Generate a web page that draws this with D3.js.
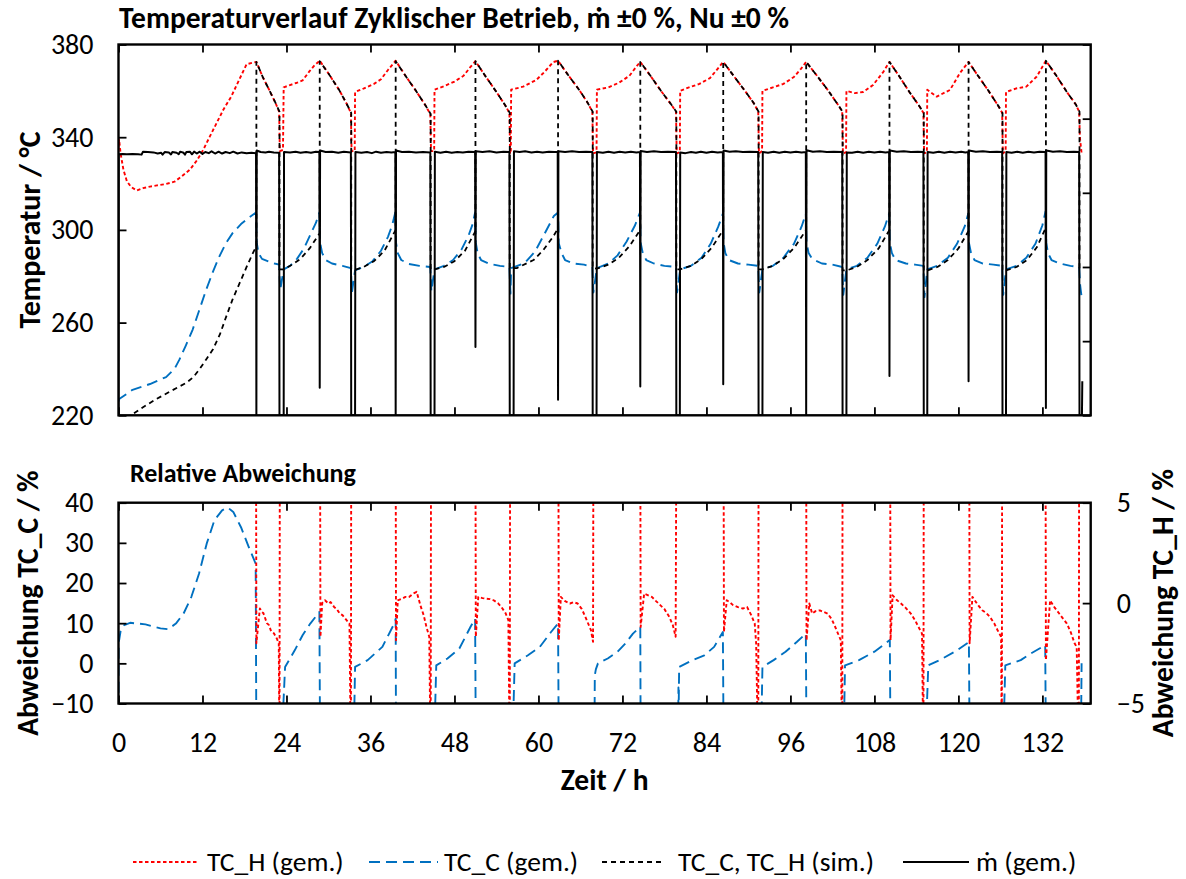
<!DOCTYPE html>
<html><head><meta charset="utf-8">
<script src="https://cdn.jsdelivr.net/npm/d3@7"></script>
<style>
body{margin:0;background:#fff}
svg{display:block}
text{font-family:Carlito,Calibri,Lato,"Open Sans",sans-serif;fill:#000}
</style></head>
<body><svg id="c" width="1186" height="879"></svg>
<script>
// ---------------- DATA ----------------
const xTicks=[0,12,24,36,48,60,72,84,96,108,120,132];
const tempTicks=[220,260,300,340,380];
const mdotTicks=[0,100,200,300,400,500];
const devCTicks=[-10,0,10,20,30,40];
const devHTicks=[-5,0,5];
const legendLabels=["TC_H (gem.)","TC_C (gem.)","TC_C, TC_H (sim.)","ṁ (gem.)"];

// TC_H measured [h, °C]
const tcHgem=[[0,335],[0.08,339],[0.3,333],[0.7,326],[1.2,321],[1.8,318.5],[2.6,317],[3.5,318],[4.5,318.7],[5.5,319.2],[6.8,319.8],[8.0,320.8],[9.0,323],[10.2,326],[11.2,330],[12.1,334.5],[13.0,340],[14.0,346],[15.0,352],[16.1,357.5],[17.2,364.5],[18.3,371.5],[19.4,372.3],[19.7,372.5],
[20.6,366],[21.6,360],[22.4,355],[22.95,351],[23.05,334],[23.5,334.5],[23.6,361.5],
[24.5,362.5],[25.5,363.5],[26.3,364.5],[27.3,368.5],[28.0,371],[28.75,373],
[30.0,367.5],[31.5,360.5],[32.5,355],[33.2,350.5],[33.3,334],[33.75,334],[33.8,359.5],
[35.0,361],[36.5,363],[37.5,365],[38.5,369],[39.6,373],
[41.0,366.5],[42.5,360],[43.8,354],[44.55,350],[44.65,334],[45.1,334],[45.15,360.5],
[46.5,362],[48.0,364],[49.3,366.5],[50.2,370],[51.0,372.8],
[52.5,366],[54.0,359.5],[55.2,354],[55.85,350.5],[55.95,333],[56.05,333],[56.1,360.5],
[57.8,361.8],[59.7,364.7],[60.9,368.3],[62.1,372.4],[62.8,373],
[64.2,367],[65.8,360.5],[67.0,355],[67.7,351],[67.8,333],[68.3,333.5],[68.35,360.5],
[70.0,361.5],[71.5,363.5],[73.0,366.5],[74.0,370.5],[74.55,372.5],
[76.0,366.5],[77.5,360],[79.0,354],[79.65,351],[79.75,333],[80.2,333.5],[80.25,360],
[81.5,361.5],[83.0,363],[84.5,365.5],[85.6,369.5],[86.4,372.5],
[88.0,366],[89.5,360],[90.8,354.5],[91.4,351],[91.5,333],[91.95,334],[92.0,360],
[93.5,361.5],[95.0,363],[96.5,366],[97.5,369.5],[98.25,372.5],
[99.8,366.5],[101.3,360.5],[102.8,354],[103.4,351],[103.5,333],[103.95,333.5],[104.0,360],
[105.2,359],[106.4,359.5],[107.8,362.5],[109.3,368.3],[110.15,372.5],
[111.5,366.5],[113.0,359.5],[114.4,353.5],[115.0,350.5],[115.1,333],[115.5,333.5],[115.55,360.5],
[116.9,357.5],[118.8,360.4],[120.2,367.6],[121.45,372.5],
[122.8,366.5],[124.3,360],[125.6,354],[126.25,350.5],[126.35,333],[126.75,334],[126.8,359.5],
[128.2,361],[129.7,361.8],[131.2,366.2],[132.5,373],
[134.0,366.5],[135.5,359.5],[136.8,354],[137.25,351],[137.35,340],[137.6,333]];

// TC_C measured [h, °C]
const tcCgem=[[0,226],[0.1,227],[2.0,231],[4.5,233.5],[6.8,236.5],[8.0,240],[8.7,244],[9.6,250],[10.6,257],[11.5,265],[12.5,274],[13.5,282],[14.4,288.5],[15.3,294],[16.3,298.6],[17.5,302.5],[18.5,305],[19.2,306.5],[19.65,307.5],
[19.75,294.5],[20.0,290],[20.5,287.5],[21.5,286.3],[22.3,285.5],[22.95,285],[23.1,274],[23.6,283],
[24.5,284.5],[25.5,287.5],[26.5,292],[27.5,298.5],[28.2,303],[28.7,307.5],
[28.8,294.5],[29.1,290],[29.6,287],[30.5,285.5],[32.0,284.5],[33.2,283.5],[33.35,273],[33.8,282.5],
[35.0,284],[36.3,286.5],[37.5,291],[38.5,297],[39.1,302],[39.55,307.5],
[39.65,294.5],[39.9,290],[40.4,287],[41.5,285.3],[43.0,284.5],[44.55,284],[44.7,273.5],[45.15,283],
[46.5,284.5],[47.8,287],[49.0,291.5],[50.0,297.5],[50.6,302.5],[50.95,307.5],
[51.05,294.5],[51.3,290],[51.8,287],[53.0,285.3],[54.5,284.5],[55.85,284],[56.0,272.5],[56.1,283.5],
[58.0,285.6],[59.5,290.6],[60.9,298.5],[62.2,306],[62.8,307.5],
[62.9,294.2],[63.3,290],[63.8,287],[65.0,285.5],[66.5,285],[67.7,284],[67.85,273],[68.35,283.5],
[70.0,285.5],[71.3,289],[72.6,295],[73.8,302],[74.5,307.5],
[74.6,294.5],[74.9,290],[75.4,287],[76.5,285.5],[78.0,284.5],[79.65,284],[79.8,273],[80.25,283],
[81.8,284.5],[83.3,288],[84.6,294],[85.7,301.5],[86.35,307],
[86.45,294.5],[86.7,290],[87.2,287],[88.5,285.5],[90.0,285],[91.4,284.5],[91.55,273],[92.0,283],
[93.5,284.5],[95.0,288],[96.5,294],[97.6,301.5],[98.2,307],
[98.3,294.5],[98.6,290],[99.1,287.5],[100.5,285.5],[102.0,285],[103.4,284],[103.55,272],[104.0,283],
[105.5,284.5],[107.0,288],[108.4,294],[109.5,301.5],[110.1,307],
[110.2,294.5],[110.5,290],[111.0,287],[112.5,285.5],[113.8,285],[115.0,284.5],[115.15,271],[115.55,283],
[117.0,284.5],[118.5,288],[119.8,294],[120.9,301.5],[121.4,307],
[121.5,294.5],[121.8,290],[122.3,287],[123.5,285.5],[125.0,285],[126.25,284.5],[126.4,272],[126.8,283],
[128.3,284.5],[129.7,288],[131.0,294],[132.0,302],[132.45,308],
[132.55,294.5],[132.8,290],[133.3,287],[134.5,285.5],[136.0,284.5],[137.25,284],[137.4,276],[137.6,271]];

// simulated TC_C (charging) / TC_H (discharging) [h, °C]
const tcSim=[[0,217],[1.6,219.7],[3.5,223.5],[5.4,227],[7.5,230.5],[9.7,234],[10.7,236.5],[11.6,240],[12.5,244],[13.5,248.5],[14.5,255],[15.4,262.7],[16.3,270],[17.3,277],[18.3,284],[19.2,290],[19.7,293],
[19.7,372.5],[20.6,366],[21.6,360],[22.4,355],[23.0,351],[23.0,283],[23.6,283],
[24.8,285],[26.0,287.5],[27.3,292],[28.75,298.6],[28.75,372.8],
[30.0,367.5],[31.5,360.5],[32.5,355],[33.25,350.5],[33.25,283],[33.8,282.8],
[35.0,284],[36.5,286.5],[38.0,291],[39.6,300],[39.6,372.8],
[41,366.5],[42.5,360],[43.8,354],[44.6,350],[44.6,283],[45.15,283],
[46.5,284],[48.0,286.5],[49.5,291],[51.0,299.5],[51.0,372.8],
[52.5,366],[54.0,359.5],[55.2,354],[55.9,350.5],[55.9,283.5],[56.9,283.5],
[59.3,287],[60.7,291.3],[62.1,297.1],[62.8,300.7],[62.8,373],
[64.2,367],[65.8,360.5],[67.0,355],[67.75,351],[67.75,283.5],[68.35,283.3],
[70.0,285],[71.5,288],[73.0,293],[74.55,300],[74.55,372.5],
[76.0,366.5],[77.5,360],[79.0,354],[79.7,351],[79.7,283],[80.25,283],
[81.8,284.5],[83.3,287.5],[84.8,292.5],[86.4,300],[86.4,372.5],
[88.0,366],[89.5,360],[90.8,354.5],[91.45,351],[91.45,283],[92.0,283],
[93.5,284.5],[95.0,287.5],[96.6,292.5],[98.25,300],[98.25,372.5],
[99.8,366.5],[101.3,360.5],[102.8,354],[103.45,351],[103.45,282.5],[104.0,282.5],
[105.5,284],[107.0,287],[108.6,292],[110.15,300],[110.15,372.5],
[111.5,366.5],[113.0,359.5],[114.4,353.5],[115.05,350.5],[115.05,282.5],[115.55,282.5],
[117.0,284],[118.5,287],[120.0,292],[121.45,299.5],[121.45,372.5],
[122.8,366.5],[124.3,360],[125.6,354],[126.3,350.5],[126.3,282.5],[126.8,282.5],
[128.3,284],[129.8,287],[131.2,292.5],[132.5,301],[132.5,373],
[134.0,366.5],[135.5,359.5],[136.8,354],[137.3,351],[137.3,283],[137.6,283]];

// mass flow measured [h, secondary axis units]
const mdotGem=[[0,0],[0.03,352],[0.6,352.5],[1.2,352],[2.0,352.5],[2.8,352],[3.3,351.5],[3.5,355.5],[4.2,355],[5.0,354.5],[5.6,353],[6.1,354],[6.3,351.5],[6.6,355],[7.2,354.5],[7.5,351.8],[7.7,355],[8.3,354],[8.6,352],[8.8,355.5],[9.3,354],[9.5,351.5],[9.7,355],[10.2,355.5],[10.5,352],[10.8,355.5],[11.2,353],[11.6,355.5],[12.0,352.5],[12.4,355],[12.9,353.5],[13.3,356],[13.8,353],[14.3,355.5],[14.8,353],[15.3,355],[15.9,353.5],[16.4,355.5],[17.0,353],[17.6,354.5],[18.3,353.5],[19.0,354],[19.65,353.5],
[19.7,0],[19.75,357],[20.3,355],[21.0,354.5],[21.5,355.5],[22.2,354.5],[22.95,354],[23.0,0],[23.6,0],[23.65,355],
[24.5,354.5],[25.3,355.5],[26.0,354],[26.8,355],[27.5,354],[28.2,355.5],[28.7,355],[28.75,37],[28.8,357],[29.6,355],[30.5,355.5],[31.4,354],[32.2,355.5],[33.2,354.5],[33.25,0],[33.8,0],[33.85,355],
[34.7,354],[35.5,355],[36.2,353.5],[36.8,355.5],[37.5,354],[38.3,355],[39.0,354.5],[39.55,355],[39.6,0],[39.65,357],[40.5,355],[41.5,355.5],[42.5,354.5],[43.5,355],[44.55,354.5],[44.6,0],[45.15,0],[45.2,355.5],
[46.0,354],[46.8,355.5],[47.6,354],[48.4,355],[49.2,354.5],[50.0,355.5],[50.95,355],[51.0,92],[51.05,356],[52.0,355],[53.0,356],[54.0,354.5],[55.0,355.5],[55.85,355],[55.9,0],[56.45,0],[56.5,356],
[57.3,355],[58.1,356],[59.0,354.5],[59.8,355.5],[60.6,354.5],[61.5,355.5],[62.3,355],[62.75,355],[62.8,21],[62.85,356],[63.8,355],[64.8,356],[65.8,355],[66.8,355.5],[67.7,355],[67.75,0],[68.3,0],[68.35,355],
[69.2,354],[70.0,355.5],[70.8,354],[71.6,355.5],[72.4,354.5],[73.2,355.5],[74.0,354.5],[74.5,355],[74.55,39],[74.6,356.5],[75.5,355],[76.5,356],[77.5,355],[78.5,355.5],[79.65,355],[79.7,0],[80.2,0],[80.25,354.5],
[81.0,353.5],[81.8,355],[82.5,354],[83.2,355.5],[84.0,354],[84.8,355.5],[85.6,354.5],[86.35,355],[86.4,42],[86.45,357],[87.3,355.5],[88.2,356],[89.2,355],[90.2,355.5],[91.4,355],[91.45,0],[92.0,0],[92.05,355],
[92.8,354],[93.6,355.5],[94.4,354],[95.2,355.5],[96.0,354.5],[96.8,355.5],[97.6,354.5],[98.2,355],[98.25,0],[98.3,357.5],[99.2,355.5],[100.2,356],[101.2,355],[102.2,355.5],[103.4,355],[103.45,0],[104.0,0],[104.05,354.5],
[104.8,354],[105.6,355.5],[106.4,354],[107.2,355.5],[108.0,354.5],[108.8,355.5],[109.6,354.5],[110.1,355],[110.15,53],[110.2,357],[111.2,355.5],[112.2,356],[113.2,355],[114.2,355.5],[115.0,355],[115.05,0],[115.55,0],[115.6,355],
[116.4,354],[117.2,355.5],[118.0,354],[118.8,355.5],[119.6,354.5],[120.4,355.5],[121.0,354.5],[121.4,355],[121.45,46],[121.5,357],[122.5,355.5],[123.5,356],[124.5,355],[125.5,355.5],[126.25,355],[126.3,0],[126.8,0],[126.85,355],
[127.6,354],[128.4,355.5],[129.2,354],[130.0,355.5],[130.8,354.5],[131.6,355.5],[132.45,355],[132.5,10],[132.55,357],[133.5,355.5],[134.5,356],[135.5,355],[136.5,355.5],[137.25,355],[137.3,0],[137.65,0],[137.7,46]];

// relative deviation TC_C [h, %] (left axis); -20 = outside range
const devC=[[0,-20],[0.02,5],[0.3,8],[0.8,9.5],[1.66,10.1],[3.85,9.7],[6.0,8.7],[7.1,8.5],[8.2,9.9],[9.3,12.4],[10.4,16.5],[11.5,22.3],[12.6,29.8],[13.7,35.6],[14.8,38.1],[15.6,38.8],[16.4,37.7],[17.5,33.9],[18.6,29.0],[19.6,24.8],[19.7,-20],
[23.3,-20],[23.8,-0.9],[25.2,3.3],[26.3,7.0],[27.4,9.9],[28.7,12.8],[28.8,-20],
[33.6,-20],[33.8,-0.9],[35.6,0.8],[37.7,4.1],[39.4,9.9],[39.6,11.1],[39.65,-20],
[45.1,-20],[45.4,-0.5],[47.0,1.2],[48.7,3.7],[50.3,9.1],[50.95,11.1],[51.05,-20],
[56.3,-20],[56.6,0],[58.5,2.0],[60.2,4.1],[61.8,7.8],[62.8,9.9],[62.9,-20],
[68.0,-20],[68.05,-3],[68.2,-1.5],[68.5,0],[69.9,1.2],[71.3,2.9],[72.4,4.9],[73.5,7.4],[74.55,9.1],[74.6,-20],
[79.95,-20],[80.0,-6],[80.05,-9],[80.1,-0.9],[82.0,0.8],[83.7,2.0],[85.1,4.1],[86.35,7.8],[86.45,-20],
[91.8,-20],[92.0,-0.9],[93.6,0.8],[95.3,2.9],[96.9,5.3],[98.2,7.4],[98.3,-20],
[103.6,-20],[103.8,-0.5],[105.8,0.8],[108.0,2.9],[110.2,5.8],[110.3,-20],
[115.3,-20],[115.7,-0.5],[117.3,0.8],[119.5,2.9],[121.5,5.3],[121.6,-20],
[126.4,-20],[126.7,-0.5],[128.9,0.8],[130.3,2.4],[132.4,4.5],[132.5,-20],
[137.5,-20],[137.6,0]];

// relative deviation TC_H [h, %] (right axis); ±8 = outside range
const devH=[[19.65,8],[19.7,-2.0],[20.2,-0.27],[20.5,-0.45],[20.7,-0.5],[21.0,-0.8],[21.2,-1.0],[21.5,-1.1],[21.8,-1.4],[22.2,-1.5],[22.6,-1.75],[22.9,-2.0],[23.0,-8],[23.05,8],
[28.8,8],[28.85,-1.68],[29.1,0.0],[29.5,0.14],[30.0,-0.02],[30.3,0.05],[30.8,-0.19],[31.2,-0.3],[31.6,-0.52],[32.0,-0.6],[32.4,-0.77],[33.0,-1.02],[33.2,-8],[33.25,8],
[39.6,8],[39.65,-1.85],[39.9,0.14],[40.5,0.22],[41.0,0.31],[41.5,0.3],[42.1,0.47],[42.6,0.56],[43.2,-0.19],[43.6,-0.6],[44.0,-1.19],[44.4,-1.68],[44.6,-8],[44.65,8],
[51.0,8],[51.05,-1.68],[51.4,0.31],[52.0,0.25],[52.5,0.22],[53.1,0.2],[53.6,0.14],[54.2,0.0],[54.7,-0.19],[55.3,-0.5],[55.7,-0.85],[55.9,-8],[55.95,8],
[62.85,8],[62.9,-1.85],[63.2,0.31],[63.8,0.1],[64.5,-0.02],[65.0,0.05],[65.6,-0.02],[66.2,-0.3],[66.7,-0.69],[67.5,-1.35],[67.8,-1.93],[67.85,8],
[74.55,8],[74.6,-1.19],[75.1,0.47],[75.6,0.4],[76.2,0.31],[76.8,0.1],[77.4,-0.1],[78.0,-0.3],[78.7,-0.69],[79.2,-1.1],[79.6,-1.68],[79.7,8],
[86.45,8],[86.5,-1.43],[86.9,0.14],[87.3,0.05],[87.8,-0.1],[88.5,-0.2],[89.2,-0.27],[89.8,-0.19],[90.4,-0.6],[90.9,-1.02],[91.1,-2.0],[91.4,-8],[91.45,8],
[98.25,8],[98.3,-1.85],[98.7,-0.02],[99.1,-0.52],[99.6,-0.4],[100.2,-0.36],[100.8,-0.45],[101.3,-0.52],[101.9,-0.8],[102.4,-1.19],[103.2,-1.85],[103.4,-8],[103.45,8],
[110.25,8],[110.3,-1.85],[110.6,0.39],[111.2,0.15],[111.8,-0.02],[112.5,-0.25],[113.2,-0.52],[113.8,-0.85],[114.3,-1.19],[114.8,-1.52],[115.0,-8],[115.05,8],
[121.55,8],[121.6,-2.0],[122.0,0.31],[122.7,-0.05],[123.4,-0.36],[124.0,-0.5],[124.5,-0.69],[125.1,-1.0],[125.6,-1.35],[126.1,-1.68],[126.2,-8],[126.25,8],
[132.45,8],[132.5,-2.84],[133.1,0.14],[133.7,-0.2],[134.4,-0.52],[135.0,-0.8],[135.5,-1.02],[136.1,-1.5],[136.6,-2.0],[136.9,-2.19],[137.2,-8],[137.25,8]];

// ---------------- LAYOUT ----------------
const FONT='Carlito,Calibri,Lato,"Open Sans",sans-serif';
const L=118.5,R=1090.7,T1=44.5,B1=415.3,T2=502.7,B2=703.5;
const svg=d3.select("#c");
const x=d3.scaleLinear().domain([0,138.9]).range([L,R]);
const yT=d3.scaleLinear().domain([220,380]).range([B1,T1]);
const yM=d3.scaleLinear().domain([0,500]).range([B1,T1]);
const yC=d3.scaleLinear().domain([-10,40]).range([B2,T2]);
const yH=d3.scaleLinear().domain([-5,5]).range([B2,T2]);

const defs=svg.append("defs");
defs.append("clipPath").attr("id","clip1").append("rect").attr("x",L).attr("y",T1).attr("width",R-L).attr("height",B1-T1);
defs.append("clipPath").attr("id","clip2").append("rect").attr("x",L).attr("y",T2).attr("width",R-L).attr("height",B2-T2);

const styles={
  H:{stroke:"#ff0000",dash:"3.5,2.5",w:1.9},
  C:{stroke:"#0070c0",dash:"11,6",w:1.9},
  S:{stroke:"#000",dash:"5,4",w:1.8},
  M:{stroke:"#000",dash:null,w:2}
};
function drawLine(g,data,ys,st){
  const ln=d3.line().x(d=>x(d[0])).y(d=>ys(d[1]));
  g.append("path").datum(data).attr("d",ln).attr("fill","none")
   .attr("stroke",st.stroke).attr("stroke-width",st.w)
   .attr("stroke-dasharray",st.dash).attr("stroke-linejoin","round");
}

// top plot lines
const g1=svg.append("g").attr("clip-path","url(#clip1)");
drawLine(g1,tcHgem,yT,styles.H);
drawLine(g1,tcCgem,yT,styles.C);
drawLine(g1,tcSim,yT,styles.S);
drawLine(g1,mdotGem,yM,styles.M);

// bottom plot lines
const g2=svg.append("g").attr("clip-path","url(#clip2)");
drawLine(g2,devC,yC,styles.C);
drawLine(g2,devH,yH,styles.H);

// axes
function styleAxis(g,fs){
  g.select(".domain").remove();
  g.selectAll(".tick line").attr("stroke","#000").attr("stroke-width",1.8);
  g.selectAll(".tick text").attr("font-size",fs).attr("fill","#000").style("font-family",FONT);
}
const FS=28;
// top
styleAxis(svg.append("g").attr("transform",`translate(${L},0)`).call(d3.axisLeft(yT).tickValues(tempTicks).tickSizeInner(-8).tickSizeOuter(0).tickPadding(25)),FS);
styleAxis(svg.append("g").attr("transform",`translate(${R},0)`).call(d3.axisRight(yM).tickValues(mdotTicks).tickSizeInner(-8).tickSizeOuter(0).tickFormat("")),FS);
styleAxis(svg.append("g").attr("transform",`translate(0,${B1})`).call(d3.axisBottom(x).tickValues(xTicks).tickSizeInner(-8).tickSizeOuter(0).tickFormat("")),FS);
styleAxis(svg.append("g").attr("transform",`translate(0,${T1})`).call(d3.axisTop(x).tickValues(xTicks).tickSizeInner(-8).tickSizeOuter(0).tickFormat("")),FS);
// bottom
styleAxis(svg.append("g").attr("transform",`translate(${L},0)`).call(d3.axisLeft(yC).tickValues(devCTicks).tickSizeInner(-8).tickSizeOuter(0).tickPadding(25)),FS);
styleAxis(svg.append("g").attr("transform",`translate(${R},0)`).call(d3.axisRight(yH).tickValues(devHTicks).tickSizeInner(-8).tickSizeOuter(0).tickPadding(26)),FS);
styleAxis(svg.append("g").attr("transform",`translate(0,${B2})`).call(d3.axisBottom(x).tickValues(xTicks).tickSizeInner(-8).tickSizeOuter(0).tickPadding(29)),FS);
styleAxis(svg.append("g").attr("transform",`translate(0,${T2})`).call(d3.axisTop(x).tickValues(xTicks).tickSizeInner(-8).tickSizeOuter(0).tickFormat("")),FS);

// frames
svg.append("rect").attr("x",L).attr("y",T1).attr("width",R-L).attr("height",B1-T1).attr("fill","none").attr("stroke","#000").attr("stroke-width",2.4);
svg.append("rect").attr("x",L).attr("y",T2).attr("width",R-L).attr("height",B2-T2).attr("fill","none").attr("stroke","#000").attr("stroke-width",2.4);

// titles
svg.append("text").attr("x",119).attr("y",28).attr("font-size",29.5).attr("font-weight","bold")
  .text("Temperaturverlauf Zyklischer Betrieb, ṁ ±0 %, Nu ±0 %");
svg.append("text").attr("x",130).attr("y",482).attr("font-size",26).attr("font-weight","bold")
  .text("Relative Abweichung");
svg.append("text").attr("transform",`translate(40,${(T1+B1)/2}) rotate(-90)`).attr("text-anchor","middle")
  .attr("font-size",30).attr("font-weight","bold").text("Temperatur / °C");
svg.append("text").attr("transform",`translate(38,${(T2+B2)/2}) rotate(-90)`).attr("text-anchor","middle")
  .attr("font-size",29.5).attr("font-weight","bold").text("Abweichung TC_C / %");
svg.append("text").attr("transform",`translate(1173,${(T2+B2)/2}) rotate(-90)`).attr("text-anchor","middle")
  .attr("font-size",29.5).attr("font-weight","bold").text("Abweichung TC_H / %");
svg.append("text").attr("x",(L+R)/2).attr("y",790).attr("text-anchor","middle")
  .attr("font-size",29.5).attr("font-weight","bold").text("Zeit / h");

// legend
const legPos=[[133,197,207],[369,438,444],[602,661,678],[903,969,976]];
const legSt=[styles.H,styles.C,styles.S,styles.M];
legendLabels.forEach((lab,i)=>{
  const p=legPos[i],st=legSt[i];
  svg.append("line").attr("x1",p[0]).attr("x2",p[1]).attr("y1",862).attr("y2",862)
    .attr("stroke",st.stroke).attr("stroke-width",st.w).attr("stroke-dasharray",st.dash);
  svg.append("text").attr("x",p[2]).attr("y",871).attr("font-size",27.5).text(lab);
});
</script></body></html>
